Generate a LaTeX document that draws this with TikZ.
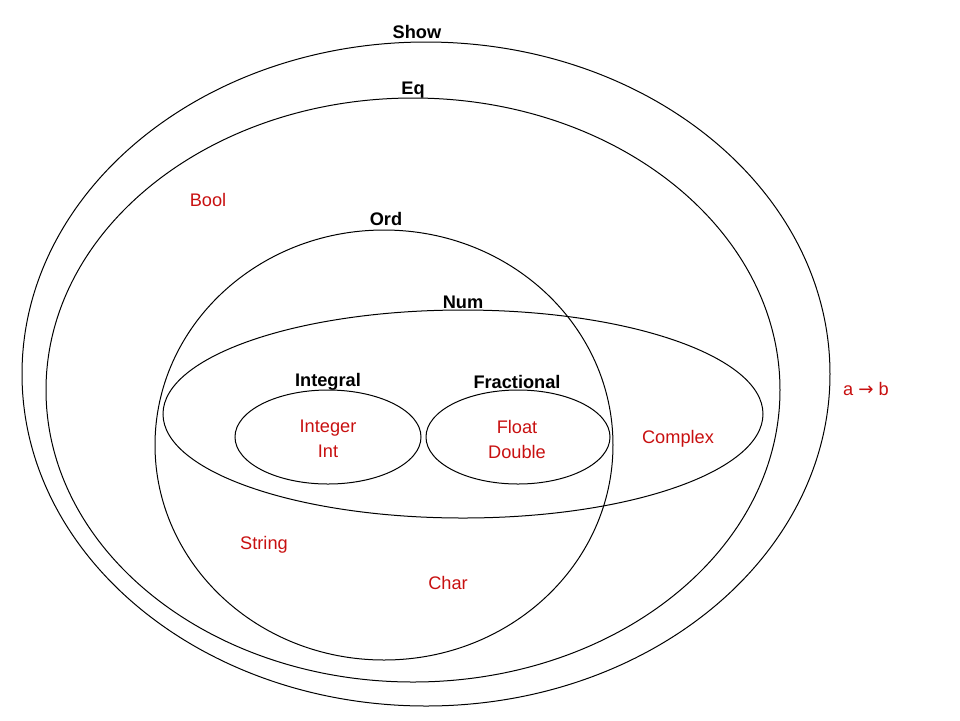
\documentclass[tikz,border=0pt]{standalone}
\usepackage{fontspec}
\setmainfont{Liberation Sans}
\newfontfamily\arrowfont{DejaVu Sans}
\usepackage{xcolor}
\usetikzlibrary{positioning}
\definecolor{tcType}{RGB}{200,16,16}
\tikzset{
  tcclass/.style={draw=black,line width=0.5pt},
  tclabel/.style={font=\fontsize{9.1}{10.8}\selectfont\bfseries,text=black,inner sep=0pt},
  tctype/.style={font=\fontsize{9.1}{12.5}\selectfont,text=tcType,align=center,inner sep=0pt},
}

\begin{document}
\begin{tikzpicture}[x=0.5pt,y=-0.5pt]
\useasboundingbox (0,0) rectangle (960,720);

% =================================================================
% class ellipses (outer to inner)
% =================================================================
\draw[tcclass] (426,374) ellipse [x radius=404, y radius=332];
\draw[tcclass] (413,390) ellipse [x radius=367, y radius=292];
\draw[tcclass] (384,445) ellipse [x radius=229, y radius=215];
\draw[tcclass] (463,414) ellipse [x radius=300, y radius=104];
\draw[tcclass] (328,437) ellipse [x radius=93,  y radius=47];
\draw[tcclass] (518,437) ellipse [x radius=92,  y radius=47];

% class names
\node[tclabel] (show) at (417,32)  {Show};
\node[tclabel] (eq)   at (413,90)  {Eq};
\node[tclabel] (ord)  at (386,219) {Ord};
\node[tclabel] (num)  at (463,302) {Num};
\node[tclabel] (intg) at (328,382) {Integral};
\node[tclabel] (frac) at (517,382) {Fractional};

% =================================================================
% member types
% =================================================================
\node[tctype] (bool)  at (208,200) {Bool};
\node[tctype] (ints)  at (328,439) {Integer\\Int};
\node[tctype] (flts)  at (517,439) {Float\\Double};
\node[tctype] (cplx)  at (678,439) {Complex};
\node[tctype] (str)   at (264,545) {String};
\node[tctype] (chr)   at (448,583) {Char};
\node[tctype] (func)  at (866,389) {a {\arrowfont →} b};

\end{tikzpicture}
\end{document}
